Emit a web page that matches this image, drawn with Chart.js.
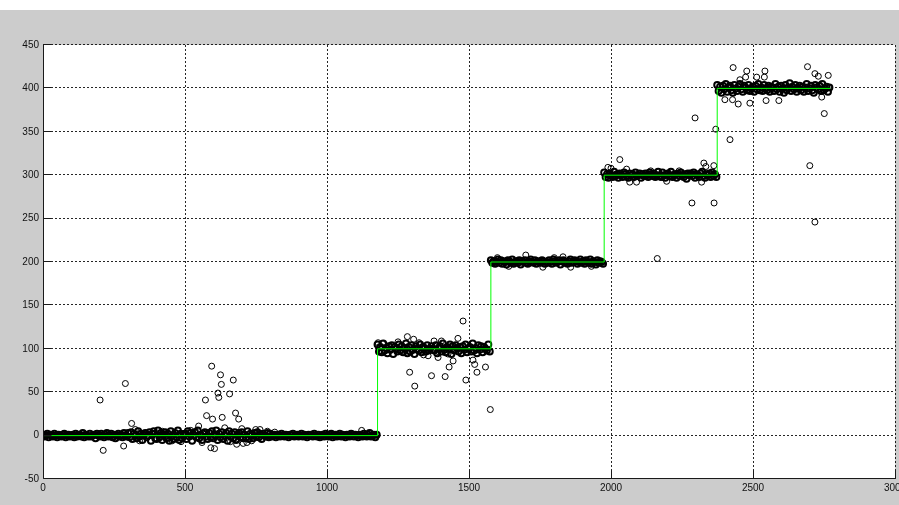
<!DOCTYPE html>
<html>
<head>
<meta charset="utf-8">
<script src="https://cdn.jsdelivr.net/npm/chart.js@4/dist/chart.umd.min.js"></script>
<style>
  html, body { margin: 0; padding: 0; background: #ffffff; overflow: hidden; width: 899px; height: 505px; }
  #wrap { position: absolute; left: 0; top: 10px; width: 940px; height: 495px; background: #cccccc; }
  canvas { display: block; }
</style>
</head>
<body>
<div id="wrap"><canvas id="c" width="940" height="495"></canvas></div>
<script>
// Reference staircase: level held from each edge to the next
const levels = [0, 100, 200, 300, 400];
const stepEdges = [0, 1178, 1577, 1976, 2374, 2772];

// Measured samples hugging each level (offset from the level, one every bandStride samples)
const bandStart = [0, 1178, 1577, 1976, 2374];
const bandStride = 5;
const band0 = [
  1, -1, 0, 2, -2, 1, 0, -1, 2, 0, -2, 1, 0, -1, 1, 2, -2, 0, 1, -1,
  0, 1, -2, 2, -1, 0, 1, -1, 3, -2, 1, 0, -1, 2, -1, 0, 1, -3, 2, 0,
  -1, 2, 0, -2, 1, 3, -1, 0, 2, -2, 1, -3, 0, 2, -1, 1, -2, 3, 0, -1,
  3, -2, 4, -4, 2, 0, -3, 5, -1, 2, -5, 1, 3, -2, 0, 4, -6, 2, 5, -3,
  -4, 6, -2, 3, -5, 1, 4, -3, 2, -6, 5, 0, -4, 3, -2, 6, -5, 2, -3, 1,
  2, -4, 5, -1, 3, -6, 0, 4, -2, 6, -3, 1, -5, 2, 4, -1, -4, 3, -2, 5,
  -3, 1, 6, -5, 2, -2, 4, -4, 0, 3, -6, 5, -1, 2, -3, 4, -5, 1, 3, -2,
  4, -3, 1, -2, 5, -4, 2, 0, -3, 3, -1, 4, -2, 1, -4, 2, 0, -1, 3, -2,
  2, -1, 0, 1, -2, 0, 1, -1, 2, 0, -1, 1, 0, -2, 1, 0, 2, -1, 0, 1,
  -1, 0, 2, -1, 1, 0, -2, 1, 0, 1, -1, 2, 0, -1, 1, -2, 0, 1, -1, 2,
  0, -1, 1, 2, -2, 0, 1, -1, 0, 2, -1, 1, 0, -2, 1, 0, -1, 2, 1, -1,
  1, 0, -2, 1, 0, -1, 2, 0, -1, 1, 3, -1, 0, 1, -2, 1
];
const band1 = [
  5, -3, 2, -4, 6, -2, 1, -5, 3, -1, 4, -6, 2, 0, -3, 5, -2, 3, -4, 1,
  6, -5, 2, -3, 4, -1, -6, 3, 0, -2, 5, -4, 2, 1, -3, 4, -2, 0, 3, -1,
  -2, 4, -5, 1, 3, -3, 6, -1, -4, 2, 0, 5, -6, 3, -2, 4, 1, -3, 2, -5,
  3, -1, 5, -4, 0, 2, -3, 6, -2, 1, -5, 4, -1, 3, -4, 2, 0, -2, 5, -3
];
const band2 = [
  2, -1, 1, -2, 0, 3, -1, 2, -2, 1, 0, -3, 2, 1, -1, 3, -2, 0, 1, -1,
  2, -3, 1, 0, 2, -1, -2, 1, 3, 0, -1, 2, -2, 1, 0, -1, 2, 1, -2, 0,
  -1, 2, 0, -2, 3, 1, -1, 0, 2, -3, 1, 2, -1, 0, -2, 1, 3, -1, 0, 2,
  1, -2, 0, 3, -1, 1, -2, 2, 0, -1, 3, -2, 1, 0, -3, 2, -1, 1, 0, -2
];
const band3 = [
  3, -2, 1, -3, 2, 0, -2, 4, -1, 1, -3, 2, 0, -2, 3, 1, -1, -3, 2, 0,
  1, -2, 3, -1, 0, 2, -3, 1, -1, 2, 0, -2, 3, 1, -1, 2, -2, 0, 4, -1,
  -2, 3, 0, -3, 1, 2, -1, 4, -2, 0, 1, -3, 2, -1, 3, 0, -2, 1, -4, 2,
  0, 2, -1, 3, -3, 1, 0, -2, 2, 4, -1, -3, 1, 0, 2, -2, 3, -1, 1, -2
];
const band4 = [
  4, -3, 2, -5, 3, -1, 5, -4, 1, 3, -2, -5, 4, 0, -3, 2, 5, -1, -4, 3,
  1, -2, 4, -3, 0, 2, -4, 3, -1, 5, -2, 1, -3, 4, 0, -2, 3, -4, 2, 1,
  -3, 5, -1, 2, -4, 3, 0, -5, 4, -2, 1, 6, -3, 2, -1, 4, -4, 0, 3, -2,
  2, -4, 1, 5, -3, 0, 3, -2, -5, 4, 1, -1, 3, -3, 5, -2, 0, 2, -4, 1
];

// Samples lying away from the level
const outlierX = [
  201, 212, 284, 290, 312, 325, 340, 420, 455, 486, 520, 548, 560, 572, 576, 591, 594, 597, 604,
  616, 619, 625, 628, 631, 640, 657, 660, 670, 678, 682, 689, 700, 705, 718, 735, 749, 764, 790, 816, 1122,
  1180, 1195, 1250, 1283, 1291, 1305, 1309, 1324, 1340, 1356, 1368, 1377, 1391, 1403, 1416, 1426, 1430,
  1444, 1461, 1479, 1489, 1514, 1520, 1528, 1558, 1575,
  1600, 1640, 1700, 1760, 1800, 1831, 1858, 1931,
  1989, 2000, 2031, 2055, 2066, 2090, 2140, 2163, 2196, 2240, 2285, 2296, 2319, 2327, 2334, 2362, 2363, 2369,
  2401, 2419, 2428, 2430, 2448, 2454, 2474, 2478, 2489, 2513, 2542, 2540, 2546, 2591, 2692, 2700, 2718,
  2718, 2730, 2742, 2751, 2765
];
const outlierY = [
  41, -17, -12, 60, 14, 7, -6, 5, -6, -7, 6, 11, -8, 41, 23, -14, 80, 19, -15,
  49, 44, 70, 59, 21, 9, 48, -7, 64, 26, -10, 19, 8, -9, -8, -6, 7, 7, 5, 4, 6,
  107, 106, 108, 114, 73, 111, 57, 107, 93, 92, 69, 109, 90, 109, 68, 94, 79,
  86, 112, 132, 64, 87, 82, 73, 79, 30,
  205, 195, 208, 194, 205, 206, 194, 195,
  309, 308, 318, 307, 292, 292, 305, 204, 293, 305, 268, 366, 292, 314, 310, 311, 268, 353,
  387, 341, 387, 424, 382, 410, 413, 420, 383, 413, 420, 413, 386, 386, 425, 311, 246,
  417, 414, 390, 371, 415
];

// Axis tick values
const xTickValues = [0, 500, 1000, 1500, 2000, 2500, 3000];
const yTickValues = [-50, 0, 50, 100, 150, 200, 250, 300, 350, 400, 450];

// Build the point tables (step-before: hold previous level, then jump at each edge)
const stepPoints = levels.map((lv, k) => ({ x: stepEdges[k], y: lv }));
stepPoints.push({ x: stepEdges[stepEdges.length - 1], y: levels[levels.length - 1] });

const bandPoints = [];
[band0, band1, band2, band3, band4].forEach((devs, k) => {
  devs.forEach((d, i) => bandPoints.push({ x: bandStart[k] + i * bandStride, y: levels[k] + d }));
});
const outlierPoints = outlierX.map((x, i) => ({ x: x, y: outlierY[i] }));

// White plot area, dotted grid, solid axes with inward ticks
const framePlugin = {
  id: 'frame',
  beforeDraw(chart) {
    const { ctx, chartArea: a } = chart;
    ctx.save();
    ctx.fillStyle = '#ffffff';
    ctx.fillRect(a.left, a.top, a.right - a.left, a.bottom - a.top);
    ctx.restore();
  },
  beforeDatasetsDraw(chart) {
    const { ctx, chartArea: a, scales } = chart;
    ctx.save();
    ctx.strokeStyle = 'rgba(0,0,0,0.85)';
    ctx.lineWidth = 1;
    ctx.setLineDash([2, 2]);
    xTickValues.forEach(v => {
      if (v === xTickValues[0]) return;
      const px = Math.round(scales.x.getPixelForValue(v)) + 0.5;
      ctx.beginPath(); ctx.moveTo(px, a.top); ctx.lineTo(px, a.bottom); ctx.stroke();
    });
    yTickValues.forEach(v => {
      if (v === yTickValues[0]) return;
      const py = Math.round(scales.y.getPixelForValue(v)) - 0.5;
      ctx.beginPath(); ctx.moveTo(a.left, py); ctx.lineTo(a.right, py); ctx.stroke();
    });
    ctx.restore();
  },
  afterDatasetsDraw(chart) {
    const { ctx, chartArea: a, scales } = chart;
    const tick = 8;
    const left = Math.round(a.left) + 0.5;
    const bottom = Math.round(a.bottom) - 0.5;
    ctx.save();
    ctx.strokeStyle = '#1a1a1a';
    ctx.lineWidth = 1;
    ctx.setLineDash([]);
    ctx.beginPath();
    ctx.moveTo(left, a.top - 0.5); ctx.lineTo(left, bottom); ctx.lineTo(a.right + 0.5, bottom);
    ctx.stroke();
    xTickValues.forEach(v => {
      const px = Math.round(scales.x.getPixelForValue(v)) + 0.5;
      ctx.beginPath(); ctx.moveTo(px, bottom); ctx.lineTo(px, bottom - tick); ctx.stroke();
    });
    yTickValues.forEach(v => {
      const py = Math.round(scales.y.getPixelForValue(v)) - 0.5;
      ctx.beginPath(); ctx.moveTo(left, py); ctx.lineTo(left + tick, py); ctx.stroke();
    });
    ctx.restore();
  }
};

const tickFont = { family: "'Liberation Sans', Arial, sans-serif", size: 10 };
const circleStyle = {
  type: 'scatter',
  pointStyle: 'circle',
  pointRadius: 3,
  borderColor: '#000000',
  backgroundColor: 'rgba(0,0,0,0)',
  order: 1
};

new Chart(document.getElementById('c'), {
  data: {
    datasets: [
      {
        type: 'line',
        label: 'Level',
        data: stepPoints,
        stepped: 'before',
        borderColor: '#00ff00',
        borderWidth: 1,
        pointRadius: 0,
        fill: false,
        order: 0
      },
      Object.assign({ label: 'Samples near level', data: bandPoints, borderWidth: 2 }, circleStyle),
      Object.assign({ label: 'Samples off level', data: outlierPoints, borderWidth: 1 }, circleStyle)
    ]
  },
  options: {
    responsive: false,
    animation: false,
    devicePixelRatio: 1,
    layout: { padding: { left: 0, top: 35, right: 45, bottom: 0 } },
    plugins: { legend: { display: false }, tooltip: { enabled: false } },
    scales: {
      x: {
        type: 'linear',
        min: 0,
        max: 3000,
        afterBuildTicks: s => { s.ticks = xTickValues.map(v => ({ value: v })); },
        afterFit: s => { s.height = 26; },
        grid: { display: false, drawTicks: false },
        border: { display: false },
        ticks: { font: tickFont, color: '#111111', padding: 3, maxRotation: 0, autoSkip: false, callback: v => String(v) }
      },
      y: {
        type: 'linear',
        min: -50,
        max: 450,
        afterBuildTicks: s => { s.ticks = yTickValues.map(v => ({ value: v })); },
        afterFit: s => { s.width = 43; },
        grid: { display: false, drawTicks: false },
        border: { display: false },
        ticks: { font: tickFont, color: '#111111', padding: 4, autoSkip: false, callback: v => String(v) }
      }
    }
  },
  plugins: [framePlugin]
});
</script>
</body>
</html>
